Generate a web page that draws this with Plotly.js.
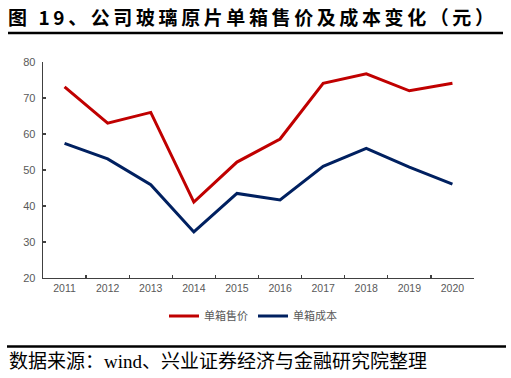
<!DOCTYPE html>
<html>
<head>
<meta charset="utf-8">
<script src="https://cdn.plot.ly/plotly-3.0.1.min.js"></script>
<style>
html,body{margin:0;padding:0;background:#fff;}
#chart{width:511px;height:378px;}
.gtitle{letter-spacing:3.6px;}
</style>
</head>
<body>
<div id="chart"></div>
<script>
const years = ['2011','2012','2013','2014','2015','2016','2017','2018','2019','2020'];
const price = [73.1, 63.0, 66.0, 41.1, 52.2, 58.6, 74.1, 76.7, 72.0, 74.1];
const cost  = [57.4, 53.1, 45.9, 32.8, 43.5, 41.7, 51.0, 56.0, 50.8, 46.1];
const seriesNames = ['单箱售价', '单箱成本'];
const yTicks = [20, 30, 40, 50, 60, 70, 80];

const W = 511, H = 378;
const L = 43, R = 37, T = 62, B = 100;
const pw = W - L - R, ph = H - T - B;
const px = x => (x - L) / pw;
const py = y => (H - B - y) / ph;

const traces = [
  {x: years, y: price, name: seriesNames[0], type: 'scatter', mode: 'lines',
   line: {color: '#C00000', width: 3}},
  {x: years, y: cost, name: seriesNames[1], type: 'scatter', mode: 'lines',
   line: {color: '#002060', width: 3}}
];

const layout = {
  width: W, height: H,
  margin: {l: L, r: R, t: T, b: B},
  paper_bgcolor: '#fff', plot_bgcolor: '#fff',
  showlegend: true,
  title: {
    text: '图 19、公司玻璃原片单箱售价及成本变化（元）',
    xref: 'container', yref: 'container',
    x: 8 / W, xanchor: 'left', y: 1 - 18 / H, yanchor: 'middle',
    font: {family: '"Noto Sans CJK SC", sans-serif', size: 19, color: '#000', weight: 'bold'}
  },
  xaxis: {
    type: 'category', range: [-0.5, 9.5],
    showline: true, linecolor: '#404040', linewidth: 1.3,
    ticks: 'inside', ticklen: 3, tickcolor: '#404040', tickwidth: 1.3,
    tickson: 'boundaries',
    showgrid: false, zeroline: false,
    tickfont: {family: '"Liberation Sans", Arial, sans-serif', size: 10.5, color: '#595959'},
    fixedrange: true
  },
  yaxis: {
    range: [20, 80], tickvals: yTicks,
    showline: true, linecolor: '#404040', linewidth: 1.3,
    ticks: 'inside', ticklen: 3, tickcolor: '#404040', tickwidth: 1.3,
    showgrid: false, zeroline: false,
    tickfont: {family: '"Liberation Sans", Arial, sans-serif', size: 11, color: '#595959'},
    ticklabelstandoff: 4,
    fixedrange: true
  },
  legend: {
    orientation: 'h', x: px(253), xanchor: 'center', y: py(316), yanchor: 'middle',
    font: {family: '"Noto Sans CJK SC", sans-serif', size: 11, color: '#595959'},
    itemwidth: 30, tracegroupgap: 0, bgcolor: 'rgba(0,0,0,0)'
  },
  shapes: [
    {type: 'line', xref: 'paper', yref: 'paper', x0: px(8), x1: px(503), y0: py(33), y1: py(33),
     line: {color: '#000', width: 2.5}},
    {type: 'line', xref: 'paper', yref: 'paper', x0: px(7), x1: px(506), y0: py(346.5), y1: py(346.5),
     line: {color: '#000', width: 2.5}}
  ],
  annotations: [
    {text: '数据来源：wind、兴业证券经济与金融研究院整理', xref: 'paper', yref: 'paper',
     x: px(7), xanchor: 'left', y: py(361), yanchor: 'middle', showarrow: false,
     font: {family: '"Liberation Serif", "Noto Sans CJK SC", serif', size: 19, color: '#000'}}
  ]
};

Plotly.newPlot('chart', traces, layout, {displayModeBar: false, staticPlot: true});
</script>
</body>
</html>
